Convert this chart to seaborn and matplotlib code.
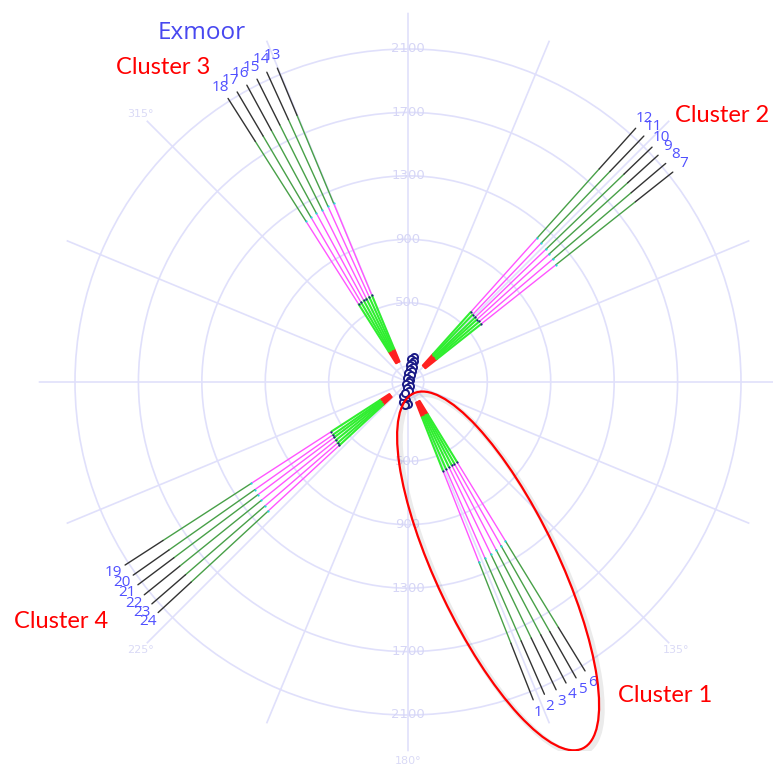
import numpy as np
import pandas as pd
import matplotlib
matplotlib.use("Agg")
import matplotlib.pyplot as plt
import seaborn as sns
from matplotlib.patches import Ellipse

# ---------------------------------------------------------------------------
# Track data: bearing (deg, clockwise from north) and range (m) at which each
# flight phase ends.  Tracks 1-6 / 7-12 / 13-18 / 19-24 form clusters 1-4.
# ---------------------------------------------------------------------------
track_id = list(range(1, 25))
bearing = [158.5, 156.4, 154.3, 152.3, 150.4, 148.5,
           51.6, 49.7, 47.8, 46.1, 43.8, 41.9,
           337.4, 335.5, 333.5, 331.5, 329.5, 327.6,
           237.1, 234.9, 233.1, 231.1, 229.1, 227.3]
phase_start = [140] * 24
red_end = [240, 238, 242, 236, 240, 238,
           232, 230, 235, 233, 230, 236,
           228, 226, 230, 225, 228, 226,
           210, 212, 208, 214, 210, 212]
green_end = [600, 598, 596, 594, 592, 590,
             588, 590, 586, 590, 588, 592,
             592, 590, 588, 585, 582, 580,
             575, 578, 582, 585, 588, 590]
magenta_end = [1220, 1212, 1204, 1196, 1186, 1176,
               1190, 1196, 1200, 1206, 1212, 1220,
               1222, 1218, 1214, 1210, 1206, 1200,
               1176, 1180, 1186, 1190, 1196, 1200]
dkgreen_end = [1770, 1782, 1792, 1800, 1810, 1815,
               1830, 1846, 1870, 1890, 1840, 1805,
               1822, 1818, 1812, 1806, 1800, 1797,
               1840, 1842, 1846, 1850, 1856, 1860]
track_end = [2154, 2149, 2154, 2144, 2146, 2137,
             2131, 2131, 2129, 2136, 2149, 2150,
             2144, 2147, 2134, 2130, 2123, 2118,
             2125, 2118, 2130, 2137, 2137, 2144]

# Launch positions (m east / north of the origin)
launch_east = [-24, -10, -30, 2, -16, -34, 36, 22, 40, 28, 14, 34,
               10, 26, 0, 20, -6, 14, 4, -14, 12, -4, 8, -20]
launch_north = [-100, -112, -124, -136, -146, -88, 156, 144, 131, 119, 106, 94,
                80, 67, 54, 41, 28, 15, 2, -12, -26, -40, -54, -70]

ring_values = [100, 500, 900, 1300, 1700, 2100]
ring_labels = [500, 900, 1300, 1700, 2100]
bearing_labels = [135, 180, 225, 315]

phases = ["launch", "climb", "cruise", "descent", "final"]
phase_colors = {"launch": "#ff2020", "climb": "#30ee30", "cruise": "#ff55ff",
                "descent": "#48a048", "final": "#333333"}

# Long-form table: one two-point segment per track and phase
rows = []
for i, tid in enumerate(track_id):
    edges = [phase_start[i], red_end[i], green_end[i], magenta_end[i],
             dkgreen_end[i], track_end[i]]
    th = np.deg2rad(bearing[i])
    for k, ph in enumerate(phases):
        seg = f"{tid}-{ph}"
        rows.append({"track": tid, "phase": ph, "segment": seg, "theta": th, "r": edges[k]})
        rows.append({"track": tid, "phase": ph, "segment": seg, "theta": th, "r": edges[k + 1]})
tracks = pd.DataFrame(rows)
inner = tracks[tracks["phase"].isin(["launch", "climb"])]
outer = tracks[~tracks["phase"].isin(["launch", "climb"])]

RMAX = 2330
W, H = 773, 765
CX, CY = 408, 382
R_PX = RMAX * 333 / 2100
rect = [(CX - R_PX) / W, (H - CY - R_PX) / H, 2 * R_PX / W, 2 * R_PX / H]

sns.set_theme(style="white")
plt.rcParams["font.family"] = ["Open Sans", "DejaVu Sans"]

fig = plt.figure(figsize=(W / 100, H / 100), dpi=100)
ax = fig.add_axes(rect, projection="polar")
ax.set_theta_zero_location("N")
ax.set_theta_direction(-1)

sns.lineplot(data=outer, x="theta", y="r", hue="phase", units="segment",
             estimator=None, sort=False, palette=phase_colors, legend=False,
             linewidth=1.0, ax=ax, zorder=3)
sns.lineplot(data=inner, x="theta", y="r", hue="phase", units="segment",
             estimator=None, sort=False, palette=phase_colors, legend=False,
             linewidth=1.5, ax=ax, zorder=3)

# phase transition fixes
bx = np.deg2rad(bearing)
ax.scatter(bx, green_end, s=2.5, color="#202080", zorder=4, linewidths=0)
ax.scatter(bx, magenta_end, s=2.5, color="#22dddd", zorder=4, linewidths=0)

# launch positions
le = np.array(launch_east, float)
ln = np.array(launch_north, float)
sns.scatterplot(x=np.arctan2(le, ln), y=np.hypot(le, ln), marker="o", s=26,
                facecolor="white", edgecolor="#1a1a86", linewidth=1.4,
                ax=ax, zorder=5, legend=False)

ax.set_ylim(0, RMAX)
ax.set_xlabel("")
ax.set_ylabel("")
ax.set_thetagrids(np.arange(0, 360, 22.5), labels=[])
ax.set_rgrids(ring_values, labels=[])
ax.grid(True, color="#e0e0fb", linewidth=1.2)
ax.set_axisbelow(True)
ax.spines["polar"].set_visible(False)
ax.set_facecolor("white")

grid_txt = "#d6d6f6"
for v in ring_labels:
    ax.text(0, v, str(v), ha="center", va="center", color=grid_txt, fontsize=9.5,
            family="DejaVu Sans", zorder=2)
    ax.text(np.pi, v, str(v), ha="center", va="center", color=grid_txt, fontsize=9.5,
            family="DejaVu Sans", zorder=2)
for b in bearing_labels:
    ax.text(np.deg2rad(b), 2390, f"{b}°", ha="center", va="center", color="#dadaf6",
            fontsize=8, family="DejaVu Sans", clip_on=False)

# track numbers at the far end of each track
for i, tid in enumerate(track_id):
    ax.text(np.deg2rad(bearing[i]), track_end[i] + 85, str(tid), ha="center",
            va="center", color="#5050ff", fontsize=11, clip_on=False, zorder=6)

# Cartesian overlay in the same metre units for the cluster outline
ov = fig.add_axes(rect)
ov.set_xlim(-RMAX, RMAX)
ov.set_ylim(-RMAX, RMAX)
ov.axis("off")
ov.patch.set_alpha(0)
ell_bearing, ell_r = 154.5, 1320
ex = ell_r * np.sin(np.deg2rad(ell_bearing))
ey = ell_r * np.cos(np.deg2rad(ell_bearing))
ov.add_patch(Ellipse((ex + 18, ey - 18), 2 * 1240, 2 * 385, angle=90 - ell_bearing,
                     fill=False, edgecolor="#000000", alpha=0.08, linewidth=4))
ov.add_patch(Ellipse((ex, ey), 2 * 1240, 2 * 385, angle=90 - ell_bearing,
                     fill=False, edgecolor="#ff0000", linewidth=1.6))


def ftext(x, y, s, **kw):
    fig.text(x / W, 1 - y / H, s, ha="center", va="center", **kw)


ftext(202, 33, "Exmoor", color="#4848f0", fontsize=17.5, family="Open Sans")
red_kw = dict(color="#ff0000", fontsize=17, family="Lato")
ftext(163, 68, "Cluster 3", **red_kw)
ftext(722, 116, "Cluster 2", **red_kw)
ftext(61, 622, "Cluster 4", **red_kw)
ftext(665, 696, "Cluster 1", **red_kw)

fig.savefig("out.png", dpi=100)
